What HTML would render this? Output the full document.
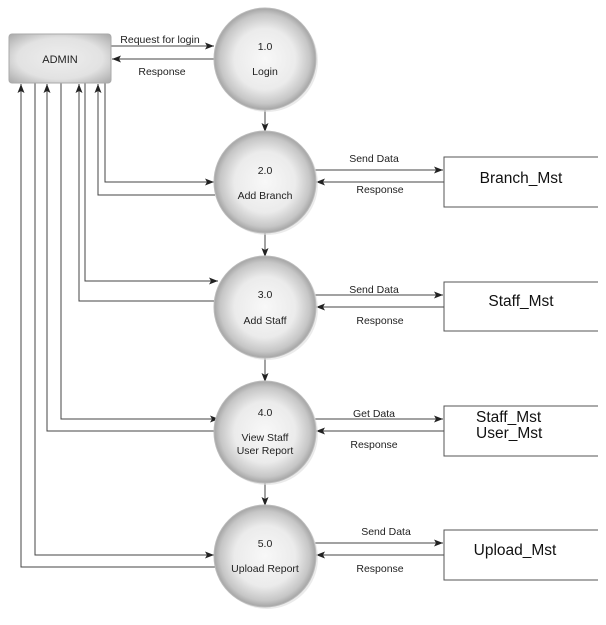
<!DOCTYPE html>
<html><head><meta charset="utf-8"><style>
html,body{margin:0;padding:0;background:#fff;}
svg{display:block;font-family:"Liberation Sans",Arial,sans-serif;}
</style></head><body>
<svg width="606" height="625" viewBox="0 0 606 625" xmlns="http://www.w3.org/2000/svg">
<defs>
<radialGradient id="cg" cx="50%" cy="50%" r="50%">
<stop offset="0" stop-color="#f8f8f8"/><stop offset="0.6" stop-color="#ebebeb"/><stop offset="0.88" stop-color="#c6c6c6"/><stop offset="1" stop-color="#a4a4a4"/>
</radialGradient>
<radialGradient id="bg" cx="50%" cy="50%" r="70%">
<stop offset="0" stop-color="#eeeeee"/><stop offset="0.6" stop-color="#e2e2e2"/><stop offset="1" stop-color="#a9a9a9"/>
</radialGradient>
<marker id="a" markerWidth="9" markerHeight="7" refX="9" refY="3.5" orient="auto" markerUnits="userSpaceOnUse">
<path d="M0,0 L9,3.5 L0,7 L2,3.5 Z" fill="#222"/>
</marker>
</defs>
<g stroke="#444" stroke-width="1" fill="none">
<line x1="111" y1="46" x2="214" y2="46" marker-end="url(#a)"/>
<line x1="215" y1="59" x2="112" y2="59" marker-end="url(#a)"/>
<line x1="265" y1="109" x2="265" y2="132" marker-end="url(#a)"/>
<line x1="265" y1="232" x2="265" y2="257" marker-end="url(#a)"/>
<line x1="265" y1="357" x2="265" y2="382" marker-end="url(#a)"/>
<line x1="265" y1="481" x2="265" y2="506" marker-end="url(#a)"/>
<polyline points="105,83 105,182 214,182" marker-end="url(#a)"/>
<polyline points="215,195 98,195 98,84" marker-end="url(#a)"/>
<polyline points="85,83 85,281 218,281" marker-end="url(#a)"/>
<polyline points="215,301 79,301 79,84" marker-end="url(#a)"/>
<polyline points="61,83 61,419 219,419" marker-end="url(#a)"/>
<polyline points="215,431 47,431 47,84" marker-end="url(#a)"/>
<polyline points="35,83 35,555 214,555" marker-end="url(#a)"/>
<polyline points="215,567 21,567 21,84" marker-end="url(#a)"/>
<line x1="315" y1="170" x2="443" y2="170" marker-end="url(#a)"/>
<line x1="444" y1="182" x2="316" y2="182" marker-end="url(#a)"/>
<line x1="315" y1="295" x2="443" y2="295" marker-end="url(#a)"/>
<line x1="444" y1="307" x2="316" y2="307" marker-end="url(#a)"/>
<line x1="315" y1="419" x2="443" y2="419" marker-end="url(#a)"/>
<line x1="444" y1="431" x2="316" y2="431" marker-end="url(#a)"/>
<line x1="315" y1="543" x2="443" y2="543" marker-end="url(#a)"/>
<line x1="444" y1="555" x2="316" y2="555" marker-end="url(#a)"/>
<polyline points="598,157 444,157 444,207 598,207" stroke="#555"/>
<polyline points="598,282 444,282 444,331 598,331" stroke="#555"/>
<polyline points="598,406 444,406 444,456 598,456" stroke="#555"/>
<polyline points="598,530 444,530 444,580 598,580" stroke="#555"/>
</g>
<rect x="9" y="34" width="102" height="49" rx="3" fill="url(#bg)" stroke="#aaa"/>
<text x="60" y="63" font-size="11" text-anchor="middle" fill="#222">ADMIN</text>
<g fill="#ddd" opacity="0.6">
<circle cx="267" cy="61" r="51"/><circle cx="267" cy="184" r="51"/><circle cx="267" cy="309" r="51"/><circle cx="267" cy="434" r="51"/><circle cx="267" cy="558" r="51"/>
</g>
<g stroke="#bbb" fill="url(#cg)">
<circle cx="265" cy="59" r="51"/>
<circle cx="265" cy="182" r="51"/>
<circle cx="265" cy="307" r="51"/>
<circle cx="265" cy="432" r="51"/>
<circle cx="265" cy="556" r="51"/>
</g>
<g font-size="10.5" fill="#222" text-anchor="middle">
<text x="265" y="50">1.0</text><text x="265" y="75">Login</text>
<text x="265" y="174">2.0</text><text x="265" y="199">Add Branch</text>
<text x="265" y="298">3.0</text><text x="265" y="324">Add Staff</text>
<text x="265" y="416">4.0</text><text x="265" y="441">View Staff</text><text x="265" y="454">User Report</text>
<text x="265" y="547">5.0</text><text x="265" y="572">Upload Report</text>
<text x="160" y="43">Request for login</text>
<text x="162" y="75">Response</text>
<text x="374" y="162">Send Data</text><text x="380" y="193">Response</text>
<text x="374" y="293">Send Data</text><text x="380" y="324">Response</text>
<text x="374" y="417">Get Data</text><text x="374" y="448">Response</text>
<text x="386" y="535">Send Data</text><text x="380" y="572">Response</text>
</g>
<g font-size="15.5" fill="#111">
<text x="521" y="183" text-anchor="middle">Branch_Mst</text>
<text x="521" y="306" text-anchor="middle">Staff_Mst</text>
<text x="476" y="422">Staff_Mst</text>
<text x="476" y="438">User_Mst</text>
<text x="515" y="555" text-anchor="middle">Upload_Mst</text>
</g>
</svg>
</body></html>
